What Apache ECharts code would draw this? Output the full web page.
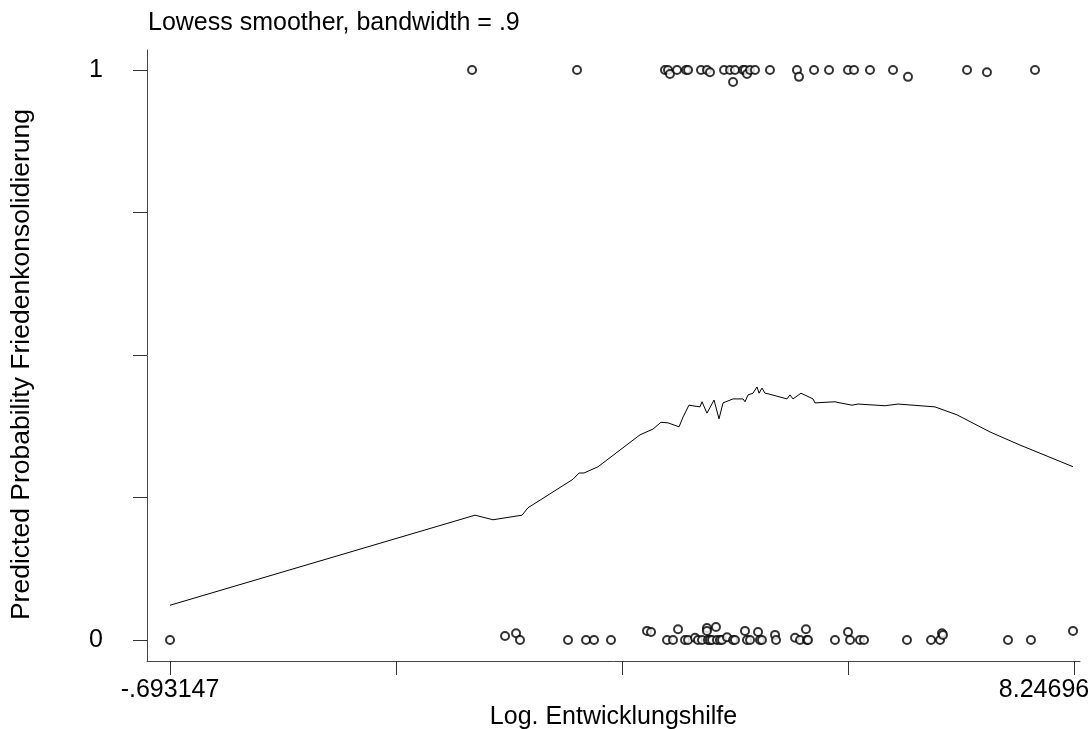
<!DOCTYPE html>
<html lang="de">
<head>
    <meta charset="UTF-8">
    <title>Lowess smoother</title>
    <script type="text/javascript" src="https://cdn.jsdelivr.net/npm/echarts@6/dist/echarts.min.js"></script>
    <style>
        html, body { margin: 0; padding: 0; background: #fff; }
    </style>
</head>
<body>
<div id="myChart" style="width:1088px;height:729px;"></div>
<script type="text/javascript">
    // Beobachtungen mit Friedenkonsolidierung = 1 (leicht gejittert)
    var onesX = [2.294, 3.332, 4.202, 4.232, 4.251, 4.321, 4.410, 4.430, 4.558, 4.617, 4.647,
                 4.786, 4.845, 4.875, 4.894, 4.974, 4.993, 5.013, 5.043, 5.092, 5.240, 5.507,
                 5.527, 5.676, 5.824, 6.012, 6.071, 6.229, 6.457, 6.605, 7.189, 7.386, 7.861];
    var onesY = [1, 1, 1, 1, 0.993, 1, 1, 1, 1, 1, 0.996,
                 1, 1, 0.979, 1, 1, 1, 0.993, 1, 1, 1, 1,
                 0.988, 1, 1, 1, 1, 1, 1, 0.988, 1, 0.996, 1];
    // Beobachtungen mit Friedenkonsolidierung = 0
    var zerosX = [-0.693, 2.620, 2.729, 2.768, 3.243, 3.421, 3.500, 3.668, 4.024, 4.064, 4.222,
                  4.281, 4.331, 4.400, 4.430, 4.499, 4.528, 4.568, 4.617, 4.617, 4.627, 4.647,
                  4.667, 4.706, 4.716, 4.746, 4.766, 4.815, 4.875, 4.894, 4.993, 5.013, 5.043,
                  5.122, 5.141, 5.161, 5.290, 5.300, 5.488, 5.537, 5.596, 5.606, 5.616, 5.883,
                  6.012, 6.032, 6.130, 6.170, 6.595, 6.833, 6.922, 6.941, 6.951, 7.594, 7.821, 8.237];
    var zerosY = [0, 0.007, 0.012, 0, 0, 0, 0, 0, 0.016, 0.014, 0,
                  0, 0.019, 0, 0, 0.004, 0, 0, 0.021, 0.016, 0, 0,
                  0, 0.023, 0, 0, 0, 0.005, 0, 0, 0.016, 0, 0,
                  0.014, 0, 0, 0.009, 0, 0.004, 0, 0.019, 0, 0, 0,
                  0.014, 0, 0, 0, 0, 0, 0, 0.012, 0.009, 0, 0, 0.016];
    // Lowess-Kurve
    var lowessX = [-0.693, 2.323, 2.501, 2.788, 2.847, 3.292, 3.352, 3.401, 3.540, 3.955, 4.083,
                   4.162, 4.232, 4.341, 4.380, 4.439, 4.548, 4.568, 4.617, 4.687, 4.736, 4.776,
                   4.875, 4.974, 4.993, 5.023, 5.072, 5.112, 5.132, 5.161, 5.191, 5.221, 5.408,
                   5.438, 5.468, 5.547, 5.666, 5.685, 5.883, 5.933, 6.051, 6.111, 6.378, 6.506,
                   6.872, 7.090, 7.416, 7.713, 8.237];
    var lowessY = [0.061, 0.219, 0.211, 0.219, 0.232, 0.282, 0.293, 0.293, 0.304, 0.360, 0.370,
                   0.382, 0.381, 0.374, 0.391, 0.412, 0.409, 0.418, 0.398, 0.421, 0.388, 0.416,
                   0.423, 0.423, 0.418, 0.430, 0.433, 0.444, 0.433, 0.442, 0.433, 0.432, 0.423,
                   0.430, 0.423, 0.433, 0.423, 0.416, 0.418, 0.416, 0.412, 0.414, 0.411, 0.414,
                   0.409, 0.395, 0.365, 0.342, 0.304];
    // Achsen
    var xTicks = [-0.693147, 1.541880, 3.776907, 6.011933, 8.24696];
    var xLabels = [-0.693147, 8.24696];
    var xLabelText = ['-.693147', '8.24696'];
    var yTicks = [0, 0.25, 0.5, 0.75, 1];
    var yLabels = [0, 1];

    function pairs(xs, ys) {
        var out = [];
        for (var i = 0; i < xs.length; i++) out.push([xs[i], ys[i]]);
        return out;
    }

    var font = 'Liberation Sans, Arial, sans-serif';
    var myChart = echarts.init(document.getElementById('myChart'), null, {renderer: 'canvas'});
    var option = {
        backgroundColor: '#fff',
        animation: false,
        title: {
            text: 'Lowess smoother, bandwidth = .9',
            left: 143,
            top: 6,
            textStyle: {fontFamily: font, fontSize: 25, fontWeight: 'normal', color: '#000'}
        },
        grid: {left: 147, right: 8, top: 50, bottom: 68, containLabel: false, outerBoundsMode: 'none'},
        xAxis: {
            type: 'value',
            min: -0.9206,
            max: 8.3060,
            name: 'Log. Entwicklungshilfe',
            nameLocation: 'middle',
            nameGap: 44,
            nameMoveOverlap: false,
            nameTextStyle: {fontFamily: font, fontSize: 25, color: '#000'},
            splitLine: {show: false},
            axisLine: {show: true, onZero: false, lineStyle: {color: '#444', width: 1}},
            axisTick: {show: true, length: 14, customValues: xTicks, lineStyle: {color: '#333'}},
            axisLabel: {
                customValues: xLabels,
                margin: 17,
                fontFamily: font, fontSize: 25, color: '#000',
                formatter: function (v) {
                    // das letzte Label rückt nach links, damit es ins Bild passt
                    return Math.abs(v - xLabels[0]) < 1e-3 ? xLabelText[0] : '{r|' + xLabelText[1] + '}';
                },
                rich: {
                    r: {fontFamily: font, fontSize: 25, color: '#000', padding: [0, 60, 0, 0]}
                }
            }
        },
        yAxis: {
            type: 'value',
            min: -0.0368,
            max: 1.0351,
            name: 'Predicted Probability Friedenkonsolidierung',
            nameLocation: 'middle',
            nameGap: 112,
            nameMoveOverlap: false,
            nameTextStyle: {fontFamily: font, fontSize: 26.5, color: '#000', padding: [0, 18, 0, 0]},
            splitLine: {show: false},
            axisLine: {show: true, onZero: false, lineStyle: {color: '#444', width: 1}},
            axisTick: {show: true, length: 14, customValues: yTicks, lineStyle: {color: '#333'}},
            axisLabel: {
                customValues: yLabels,
                margin: 44,
                fontFamily: font, fontSize: 25, color: '#000',
                formatter: function (v) { return String(Math.round(v)); }
            }
        },
        series: [
            {
                type: 'scatter',
                data: pairs(onesX, onesY),
                symbol: 'emptyCircle',
                symbolSize: 8,
                itemStyle: {color: '#000', borderWidth: 1}
            },
            {
                type: 'scatter',
                data: pairs(zerosX, zerosY),
                symbol: 'emptyCircle',
                symbolSize: 8,
                itemStyle: {color: '#000', borderWidth: 1}
            },
            {
                type: 'line',
                data: pairs(lowessX, lowessY),
                showSymbol: false,
                symbol: 'none',
                lineStyle: {color: '#000', width: 1}
            }
        ]
    };
    myChart.setOption(option);
</script>
</body>
</html>
